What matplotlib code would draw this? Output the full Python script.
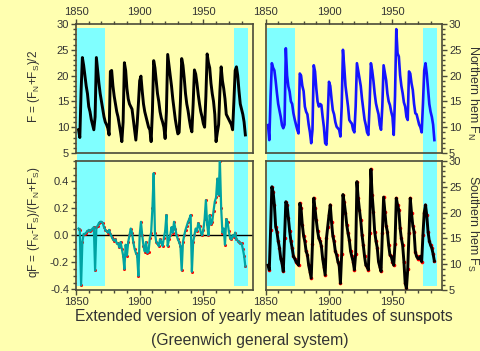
import matplotlib
matplotlib.use('Agg')
import matplotlib.pyplot as plt
import matplotlib.transforms as mtransforms
from matplotlib.patches import Rectangle
from matplotlib.ticker import MultipleLocator, FormatStrFormatter

plt.rcParams['font.family'] = ['Liberation Sans', 'DejaVu Sans']
plt.rcParams['mathtext.fontset'] = 'custom'
plt.rcParams['mathtext.rm'] = 'Liberation Sans'

# yearly values 1852..1983
years = list(range(1852, 1984))

F_mean = [9.5, 8.0, 17, 23.5, 22, 20, 18, 16.5, 14, 13,
          11.5, 10.5, 9.5, 12, 23.5, 21, 18.5, 16.5, 15, 13.5,
          12, 11, 10.5, 9.8, 8.5, 20.8, 21, 18, 16, 14.5,
          13, 12, 10.5, 9, 7.2, 11, 22.5, 21, 17.5, 15.5,
          14.5, 14, 13.5, 11.5, 9.5, 7.5, 10.5, 14.5, 19, 19.9,
          17, 14.5, 13, 12, 11, 10, 9.5, 7.2, 13, 22.9,
          21.5, 19, 16.5, 15, 13, 11.8, 11, 10, 7.8, 13,
          24.1, 22, 20, 18, 15.5, 13.5, 11.5, 10, 8.7, 9,
          15, 23.3, 22, 19.5, 16.5, 14.5, 13.2, 11.5, 10, 9.1,
          14.5, 21.1, 20.3, 18.5, 16.3, 14.5, 13, 12, 10.7, 10,
          16, 24.2, 22.5, 21.5, 18.5, 16.5, 15, 12.5, 7.2, 9,
          10.5, 17, 21.7, 19, 17.5, 15.5, 12.5, 12, 11.5, 11,
          10.5, 9.5, 15, 21, 21.7, 20, 17, 14.5, 13.5, 12.5,
          11, 8.5]

F_north = [10.4, 7.5, 16, 22.4, 21.5, 21, 19, 16.6, 14.5, 13.3,
           12, 10.4, 9.8, 10.5, 25.3, 20, 17.9, 16.9, 15, 14.5,
           12.7, 11.5, 10.5, 9.5, 8.8, 20.4, 20, 18, 17, 14,
           13, 12.5, 10.5, 9, 6.9, 9.5, 22, 20.8, 17.5, 15,
           14, 14.5, 14.3, 12, 10, 6.9, 6.6, 12, 18.8, 18,
           15.5, 13.3, 12.5, 11, 10.1, 9.8, 9.5, 8.2, 14, 25,
           21.7, 18, 16, 14, 11.4, 11, 10.7, 9.5, 9, 14,
           22.4, 21, 19.5, 18, 15.5, 13.5, 11.5, 10.4, 9, 8.5,
           14.5, 22.4, 21, 19, 16.5, 14.6, 13.5, 12.5, 10.4, 9.5,
           14, 22, 20.5, 19.1, 16.5, 15, 14.3, 13, 12, 8.5,
           16, 29, 24.3, 23.7, 20.1, 18, 16.6, 14.8, 14, 12,
           11.4, 20.8, 20.4, 18.5, 17.2, 14.5, 12.7, 12.5, 11.5, 10.5,
           10, 9, 14.5, 21, 22.4, 20.4, 17.5, 14.5, 13, 12,
           10.5, 7.5]

F_south = [9.8, 8.9, 16.6, 25, 24, 21.5, 17.3, 16.3, 14.5, 13.2,
           11.1, 10.2, 8.6, 15, 22.1, 21.5, 19, 16.5, 14.5, 13.1,
           11.5, 11.1, 10.5, 10.2, 9.8, 21.8, 20.8, 17.6, 15.5, 14.4,
           12.5, 11.8, 9.8, 8.5, 7.3, 14, 22.8, 20.8, 18.5, 16.5,
           15, 14.5, 13.5, 11.1, 9.5, 7.9, 15, 17.3, 19.5, 21.5,
           18.2, 15.5, 14.4, 12.5, 11.8, 10.5, 9.8, 6.3, 12, 23.5,
           22, 20, 17.6, 16, 14.7, 12.5, 11.5, 10.5, 8.9, 12,
           26, 22.8, 20.5, 18.5, 15.7, 13.7, 11.5, 9.8, 9.5, 8.9,
           16, 28.4, 23.4, 20.2, 16.3, 14.5, 13.2, 10.5, 9.5, 8.6,
           16, 23, 20.2, 17.5, 16.3, 13.7, 11.8, 11.5, 10.5, 9.8,
           14, 22.8, 21.5, 20.5, 17, 15, 13.7, 10.5, 6.3, 5.3,
           9, 16, 22.8, 19.9, 17.5, 16.3, 12.4, 11.5, 11.1, 11.1,
           11.5, 10.5, 15.7, 20, 21.5, 19.5, 16.3, 14.5, 13.7, 13.1,
           12, 10.6]

q_asym = [0.05, 0.04, -0.37, -0.05, 0.01, 0.01, 0.02, 0.03, 0.04, 0.03,
          0.04, 0.05, 0.06, -0.26, 0.06, 0.07, 0.09, 0.10, 0.10, 0.09,
          0.06, 0.04, 0.03, 0.02, 0.04, 0.01, -0.01, -0.03, -0.04, -0.03,
          -0.06, -0.06, -0.09, -0.05, -0.10, -0.15, -0.25, -0.07, -0.15, -0.05,
          0.0, 0.05, 0.02, -0.05, -0.10, -0.13, -0.15, -0.30, 0.0, 0.10,
          0.0, -0.08, -0.12, -0.05, -0.13, -0.12, -0.02, 0.02, 0.20, 0.46,
          0.02, -0.05, -0.06, -0.08, -0.03, -0.05, -0.08, -0.02, 0.03, 0.15,
          -0.08, -0.03, 0.0, 0.06, 0.02, 0.10, 0.05, 0.0, -0.03, -0.05,
          -0.08, -0.26, -0.05, 0.0, 0.04, 0.07, 0.10, 0.12, 0.15, -0.27,
          -0.05, 0.0, 0.05, 0.03, 0.09, 0.07, 0.02, 0.0, 0.04, 0.12,
          0.26, 0.08, 0.0, 0.15, 0.08, 0.10, 0.18, 0.25, 0.28, 0.42,
          0.30, 0.55, 0.20, 0.02, 0.05, -0.07, 0.12, 0.10, 0.03, -0.02,
          -0.03, 0.0, -0.01, 0.02, -0.03, -0.04, -0.05, -0.06, -0.06, -0.10,
          -0.15, -0.23]

shaded = [(1851, 1873), (1974, 1985)]

BG = '#ffffb0'
CYAN = '#80ffff'
FRAME = '#4a4a38'
TXT = '#333333'
W, H = 480.0, 351.0


def box(x0, y0, x1, y1):
    return [x0 / W, 1 - y1 / H, (x1 - x0) / W, (y1 - y0) / H]


fig = plt.figure(figsize=(4.8, 3.51), dpi=100, facecolor=BG)

ax_f = fig.add_axes(box(76, 24, 253, 153))
ax_n = fig.add_axes(box(265.5, 24, 442, 153))
ax_q = fig.add_axes(box(76, 161, 253, 290))
ax_s = fig.add_axes(box(265.5, 161, 442, 290))

for ax in (ax_f, ax_n, ax_q, ax_s):
    ax.set_facecolor('none')
    ax.set_xlim(1850, 1989)
    for sp in ax.spines.values():
        sp.set_color(FRAME)
        sp.set_linewidth(1.2)
    ax.xaxis.set_major_locator(MultipleLocator(50))
    ax.xaxis.set_minor_locator(MultipleLocator(10))
    ax.tick_params(which='both', direction='out', color=FRAME, labelcolor=TXT,
                   labelsize=8, pad=1.5, width=1)
    ax.tick_params(which='major', length=3.5)
    ax.tick_params(which='minor', length=2.5)

for ax in (ax_f, ax_n, ax_s):
    ax.set_ylim(5, 30)
    ax.yaxis.set_major_locator(MultipleLocator(5))
    ax.yaxis.set_minor_locator(MultipleLocator(1))

ax_q.set_ylim(-0.405, 0.55)
ax_q.yaxis.set_major_locator(MultipleLocator(0.2))
ax_q.yaxis.set_minor_locator(MultipleLocator(0.05))
ax_q.yaxis.set_major_formatter(FormatStrFormatter('%.1f'))

# top row: years on the top edge
for ax in (ax_f, ax_n):
    ax.tick_params(axis='x', which='both', top=True, bottom=False,
                   labeltop=True, labelbottom=False)
# right column: values on the right edge
for ax in (ax_n, ax_s):
    ax.tick_params(axis='y', which='both', left=False, right=True,
                   labelleft=False, labelright=True)

# cyan bands running through both rows
for ax in (ax_f, ax_n):
    trans = mtransforms.blended_transform_factory(ax.transData, fig.transFigure)
    for a, b in shaded:
        r = Rectangle((a, 1 - 285.5 / H), b - a, (285.5 - 28) / H,
                      transform=trans, facecolor=CYAN, edgecolor='none', zorder=-1)
        fig.add_artist(r)

ax_f.plot(years, F_mean, color='black', lw=2.1)
ax_n.plot(years, F_north, color='#1414ff', lw=1.9)
ax_q.axhline(0, color='black', lw=1)
ax_q.plot(years, q_asym, ls='none', marker='.', ms=2.4, color='red', zorder=2)
ax_q.plot(years, q_asym, color='#00a3a3', lw=1.6, zorder=3)
ax_s.plot(years, F_south, ls='none', marker='.', ms=3.2, color='red', zorder=2)
ax_s.plot(years, F_south, color='black', lw=2.1, zorder=3)

fig.text(34 / W, 1 - 86 / H, r'F = (F$_\mathrm{N}$+F$_\mathrm{S}$)/2', rotation=90,
         ha='center', va='center', fontsize=8.5, color=TXT)
fig.text(34 / W, 1 - 222 / H, r'qF = (F$_\mathrm{N}$-F$_\mathrm{S}$)/(F$_\mathrm{N}$+F$_\mathrm{S}$)',
         rotation=90, ha='center', va='center', fontsize=8.5, color=TXT)
fig.text(473 / W, 1 - 93 / H, r'Northern hem F$_\mathrm{N}$', rotation=-90,
         ha='center', va='center', fontsize=9, color=TXT)
fig.text(473 / W, 1 - 224 / H, r'Southern hem F$_\mathrm{S}$', rotation=-90,
         ha='center', va='center', fontsize=9, color=TXT)

fig.text(264 / W, 1 - 316 / H, 'Extended version of yearly mean latitudes of sunspots',
         ha='center', va='center', fontsize=11.3, color=TXT)
fig.text(250 / W, 1 - 340 / H, '(Greenwich general system)',
         ha='center', va='center', fontsize=11.3, color=TXT)

fig.savefig('out.png', dpi=100, facecolor=BG)
plt.close()
